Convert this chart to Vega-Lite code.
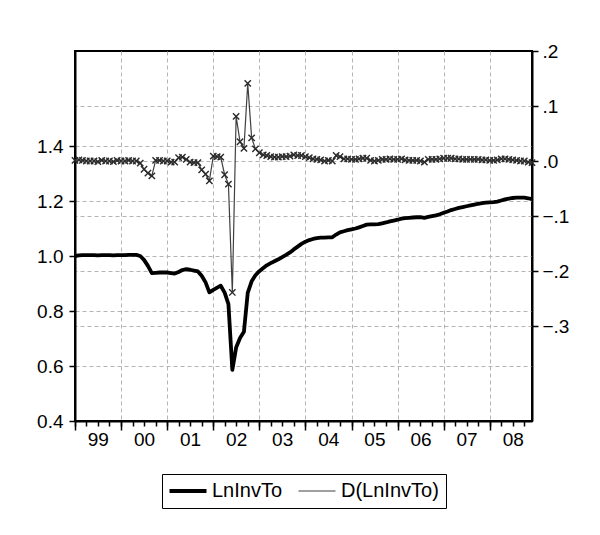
{
  "$schema": "https://vega.github.io/schema/vega-lite/v6.json",
  "width": 457,
  "height": 370,
  "autosize": {"type": "none"},
  "padding": {"left": 75, "top": 51, "right": 68, "bottom": 114},
  "background": "white",
  "config": {
    "font": "Liberation Sans",
    "axis": {"labelFont": "Liberation Sans", "labelFontSize": 19, "labelColor": "#000", "tickColor": "#000", "gridColor": "#b4b4b4", "gridDash": [4, 3], "gridWidth": 1, "domainColor": "#000", "title": null},
    "view": {"stroke": "#000", "strokeWidth": 2}
  },
  "data": {"values": [
    {"date":"1999-01-01","L":1.000,"D":0.001},{"date":"1999-02-01","L":1.002,"D":0.002},{"date":"1999-03-01","L":1.003,"D":0.001},{"date":"1999-04-01","L":1.003,"D":0.000},{"date":"1999-05-01","L":1.003,"D":0.000},{"date":"1999-06-01","L":1.003,"D":0.000},{"date":"1999-07-01","L":1.002,"D":-0.001},{"date":"1999-08-01","L":1.003,"D":0.001},{"date":"1999-09-01","L":1.003,"D":0.000},{"date":"1999-10-01","L":1.003,"D":0.000},{"date":"1999-11-01","L":1.002,"D":-0.001},{"date":"1999-12-01","L":1.003,"D":0.001},
    {"date":"2000-01-01","L":1.003,"D":0.000},{"date":"2000-02-01","L":1.003,"D":0.000},{"date":"2000-03-01","L":1.004,"D":0.001},{"date":"2000-04-01","L":1.004,"D":0.000},{"date":"2000-05-01","L":1.004,"D":0.000},{"date":"2000-06-01","L":1.000,"D":-0.004},{"date":"2000-07-01","L":0.986,"D":-0.015},{"date":"2000-08-01","L":0.964,"D":-0.022},{"date":"2000-09-01","L":0.938,"D":-0.027},{"date":"2000-10-01","L":0.939,"D":0.001},{"date":"2000-11-01","L":0.940,"D":0.001},{"date":"2000-12-01","L":0.940,"D":0.000},
    {"date":"2001-01-01","L":0.940,"D":0.000},{"date":"2001-02-01","L":0.938,"D":-0.002},{"date":"2001-03-01","L":0.936,"D":-0.002},{"date":"2001-04-01","L":0.942,"D":0.006},{"date":"2001-05-01","L":0.949,"D":0.007},{"date":"2001-06-01","L":0.952,"D":0.003},{"date":"2001-07-01","L":0.950,"D":-0.002},{"date":"2001-08-01","L":0.947,"D":-0.003},{"date":"2001-09-01","L":0.944,"D":-0.003},{"date":"2001-10-01","L":0.928,"D":-0.016},{"date":"2001-11-01","L":0.904,"D":-0.024},{"date":"2001-12-01","L":0.868,"D":-0.036},
    {"date":"2002-01-01","L":0.877,"D":0.009},{"date":"2002-02-01","L":0.885,"D":0.008},{"date":"2002-03-01","L":0.892,"D":0.007},{"date":"2002-04-01","L":0.867,"D":-0.025},{"date":"2002-05-01","L":0.825,"D":-0.042},{"date":"2002-06-01","L":0.586,"D":-0.239},{"date":"2002-07-01","L":0.667,"D":0.081},{"date":"2002-08-01","L":0.702,"D":0.035},{"date":"2002-09-01","L":0.725,"D":0.023},{"date":"2002-10-01","L":0.866,"D":0.141},{"date":"2002-11-01","L":0.908,"D":0.042},{"date":"2002-12-01","L":0.930,"D":0.022},
    {"date":"2003-01-01","L":0.945,"D":0.015},{"date":"2003-02-01","L":0.956,"D":0.011},{"date":"2003-03-01","L":0.966,"D":0.010},{"date":"2003-04-01","L":0.974,"D":0.008},{"date":"2003-05-01","L":0.981,"D":0.007},{"date":"2003-06-01","L":0.988,"D":0.007},{"date":"2003-07-01","L":0.996,"D":0.008},{"date":"2003-08-01","L":1.004,"D":0.008},{"date":"2003-09-01","L":1.013,"D":0.009},{"date":"2003-10-01","L":1.024,"D":0.011},{"date":"2003-11-01","L":1.034,"D":0.010},{"date":"2003-12-01","L":1.044,"D":0.010},
    {"date":"2004-01-01","L":1.052,"D":0.008},{"date":"2004-02-01","L":1.058,"D":0.006},{"date":"2004-03-01","L":1.062,"D":0.004},{"date":"2004-04-01","L":1.065,"D":0.003},{"date":"2004-05-01","L":1.067,"D":0.002},{"date":"2004-06-01","L":1.067,"D":0.000},{"date":"2004-07-01","L":1.068,"D":0.001},{"date":"2004-08-01","L":1.068,"D":0.000},{"date":"2004-09-01","L":1.078,"D":0.010},{"date":"2004-10-01","L":1.086,"D":0.008},{"date":"2004-11-01","L":1.090,"D":0.004},{"date":"2004-12-01","L":1.094,"D":0.004},
    {"date":"2005-01-01","L":1.097,"D":0.003},{"date":"2005-02-01","L":1.100,"D":0.003},{"date":"2005-03-01","L":1.104,"D":0.004},{"date":"2005-04-01","L":1.109,"D":0.005},{"date":"2005-05-01","L":1.114,"D":0.005},{"date":"2005-06-01","L":1.115,"D":0.001},{"date":"2005-07-01","L":1.115,"D":0.000},{"date":"2005-08-01","L":1.116,"D":0.001},{"date":"2005-09-01","L":1.119,"D":0.003},{"date":"2005-10-01","L":1.122,"D":0.003},{"date":"2005-11-01","L":1.126,"D":0.004},{"date":"2005-12-01","L":1.129,"D":0.003},
    {"date":"2006-01-01","L":1.132,"D":0.003},{"date":"2006-02-01","L":1.136,"D":0.004},{"date":"2006-03-01","L":1.138,"D":0.002},{"date":"2006-04-01","L":1.139,"D":0.001},{"date":"2006-05-01","L":1.140,"D":0.001},{"date":"2006-06-01","L":1.141,"D":0.001},{"date":"2006-07-01","L":1.141,"D":0.000},{"date":"2006-08-01","L":1.139,"D":-0.002},{"date":"2006-09-01","L":1.142,"D":0.003},{"date":"2006-10-01","L":1.145,"D":0.003},{"date":"2006-11-01","L":1.148,"D":0.003},{"date":"2006-12-01","L":1.152,"D":0.004},
    {"date":"2007-01-01","L":1.157,"D":0.005},{"date":"2007-02-01","L":1.162,"D":0.005},{"date":"2007-03-01","L":1.167,"D":0.005},{"date":"2007-04-01","L":1.171,"D":0.004},{"date":"2007-05-01","L":1.175,"D":0.004},{"date":"2007-06-01","L":1.178,"D":0.003},{"date":"2007-07-01","L":1.181,"D":0.003},{"date":"2007-08-01","L":1.184,"D":0.003},{"date":"2007-09-01","L":1.187,"D":0.003},{"date":"2007-10-01","L":1.190,"D":0.003},{"date":"2007-11-01","L":1.192,"D":0.002},{"date":"2007-12-01","L":1.194,"D":0.002},
    {"date":"2008-01-01","L":1.195,"D":0.001},{"date":"2008-02-01","L":1.196,"D":0.001},{"date":"2008-03-01","L":1.198,"D":0.002},{"date":"2008-04-01","L":1.202,"D":0.004},{"date":"2008-05-01","L":1.206,"D":0.004},{"date":"2008-06-01","L":1.209,"D":0.003},{"date":"2008-07-01","L":1.211,"D":0.002},{"date":"2008-08-01","L":1.212,"D":0.001},{"date":"2008-09-01","L":1.212,"D":0.000},{"date":"2008-10-01","L":1.212,"D":0.000},{"date":"2008-11-01","L":1.210,"D":-0.002},{"date":"2008-12-01","L":1.207,"D":-0.003}
  ]},
  "layer": [
    {
      "mark": {"type": "line", "strokeWidth": 3.8, "strokeJoin": "round"},
      "encoding": {
        "x": {"field": "date", "type": "temporal",
          "scale": {"type": "utc", "domain": [{"year": 1999, "month": 1, "date": 1, "utc": true}, {"year": 2008, "month": 12, "date": 1, "utc": true}]},
          "axis": {"orient": "bottom", "tickCount": {"interval": "year", "step": 1}, "labels": false, "tickSize": 9, "tickWidth": 1.5, "grid": true,
            "gridOpacity": {"condition": {"test": "utcyear(datum.value) < 2000", "value": 0}, "value": 1},
            "domain": true, "domainWidth": 2, "title": null}},
        "y": {"field": "L", "type": "quantitative",
          "scale": {"domain": [0.4, 1.7455], "nice": false, "zero": false},
          "axis": {"orient": "left", "values": [0.4, 0.6, 0.8, 1.0, 1.2, 1.4], "format": ".1f", "tickSize": 6, "tickWidth": 1.5, "labelPadding": 6, "grid": true,
            "gridOpacity": {"condition": {"test": "datum.value < 0.45", "value": 0}, "value": 1},
            "domain": true, "domainWidth": 2, "title": null}},
        "color": {"datum": "LnInvTo", "type": "nominal",
          "scale": {"domain": ["LnInvTo", "D(LnInvTo)"], "range": ["#000000", "#404040"]},
          "legend": {"title": null, "orient": "none", "legendX": 87, "legendY": 423, "direction": "horizontal",
            "symbolType": "stroke", "symbolSize": 1369, "symbolOffset": 9, "labelFont": "Liberation Sans", "labelFontSize": 20, "labelColor": "#000",
            "strokeColor": "#000", "padding": 7, "columnPadding": 13, "labelOffset": 14,
            "encode": {"symbols": {"update": {"strokeWidth": {"signal": "datum.value === 'LnInvTo' ? 3.8 : 1.2"}}}}}}
      }
    },
    {
      "mark": {"type": "line", "strokeWidth": 1.2},
      "encoding": {
        "x": {"field": "date", "type": "temporal",
          "axis": {"orient": "bottom", "tickCount": {"interval": "month", "step": 3}, "labels": false, "tickSize": 5, "tickWidth": 1.5, "grid": false, "domain": false, "title": null}},
        "y": {"field": "D", "type": "quantitative",
          "scale": {"domain": [-0.4727, 0.2], "nice": false, "zero": false},
          "axis": {"orient": "right", "values": [-0.3, -0.2, -0.1, 0, 0.1, 0.2], "labelExpr": "replace(format(datum.value, '.1f'), '0.', '.')", "tickSize": 6, "tickWidth": 1.5, "labelPadding": 4, "grid": true,
            "gridOpacity": {"condition": {"test": "datum.value > 0.15", "value": 0}, "value": 1},
            "domain": true, "domainWidth": 2, "title": null}},
        "color": {"datum": "D(LnInvTo)", "type": "nominal"}
      }
    },
    {
      "mark": {"type": "point", "shape": "M-1,-1L1,1M-1,1L1,-1", "filled": false, "size": 40, "strokeWidth": 1.4, "color": "#2a2a2a", "opacity": 1},
      "encoding": {
        "x": {"field": "date", "type": "temporal",
          "axis": {"orient": "bottom", "values": [{"year": 1999, "month": 7, "date": 1, "utc": true}, {"year": 2000, "month": 7, "date": 1, "utc": true}, {"year": 2001, "month": 7, "date": 1, "utc": true}, {"year": 2002, "month": 7, "date": 1, "utc": true}, {"year": 2003, "month": 7, "date": 1, "utc": true}, {"year": 2004, "month": 7, "date": 1, "utc": true}, {"year": 2005, "month": 7, "date": 1, "utc": true}, {"year": 2006, "month": 7, "date": 1, "utc": true}, {"year": 2007, "month": 7, "date": 1, "utc": true}, {"year": 2008, "month": 7, "date": 1, "utc": true}],
            "labelExpr": "utcFormat(datum.value, '%y')", "ticks": false, "tickSize": 0, "labelPadding": 9, "grid": false, "domain": false, "title": null}},
        "y": {"field": "D", "type": "quantitative", "scale": {"domain": [-0.4727, 0.2], "nice": false, "zero": false}, "axis": null}
      }
    }
  ],
  "resolve": {"scale": {"y": "independent"}, "axis": {"x": "independent", "y": "independent"}}
}
